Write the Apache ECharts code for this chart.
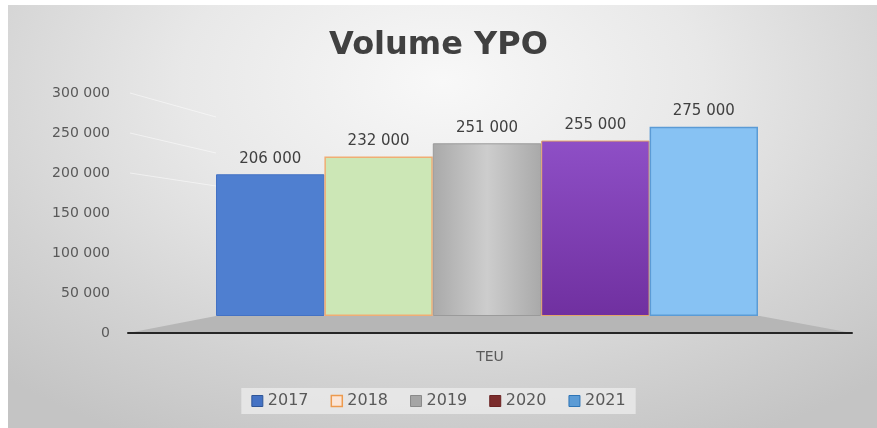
<!DOCTYPE html>
<html>
<head>
<meta charset="utf-8">
<script src="https://cdn.jsdelivr.net/npm/echarts@6/dist/echarts.min.js"></script>
<style>
  html, body { margin: 0; padding: 0; background: #ffffff; }
  #wrap { position: absolute; left: 8px; top: 5px; width: 869px; height: 423px;
    background: radial-gradient(ellipse 75% 95% at 50% 18%, #f8f8f8 0%, #e8e8e8 40%, #d2d2d2 75%, #c4c4c4 100%); }
  #chart { position: absolute; left: -8px; top: -5px; width: 877px; height: 428px; }
</style>
</head>
<body>
<div id="wrap"><div id="chart"></div></div>
<script>
const categories = ['TEU'];
const years = ['2017', '2018', '2019', '2020', '2021'];
const values2017 = [206000];
const values2018 = [232000];
const values2019 = [251000];
const values2020 = [255000];
const values2021 = [275000];
const yTicks = [0, 50000, 100000, 150000, 200000, 250000, 300000];

const seriesValues = [values2017, values2018, values2019, values2020, values2021];

const fmt = v => String(v).replace(/\B(?=(\d{3})+(?!\d))/g, ' ');
const FONT = 'DejaVu Sans';

const barStyles = [
  { color: '#4f7fd0', borderColor: '#4472c4', borderWidth: 1 },
  { color: '#cce7b6', borderColor: '#f0ad74', borderWidth: 1.5 },
  { color: { type: 'linear', x: 0, y: 0, x2: 1, y2: 0, colorStops: [
      { offset: 0, color: '#a9a9a9' }, { offset: 0.5, color: '#cdcdcd' }, { offset: 1, color: '#a9a9a9' }] },
    borderColor: '#9a9a9a', borderWidth: 1 },
  { color: { type: 'linear', x: 0, y: 0, x2: 0, y2: 1, colorStops: [
      { offset: 0, color: '#8e4fc6' }, { offset: 1, color: '#7030a0' }] },
    borderColor: '#e3a56a', borderWidth: 1 },
  { color: '#87c2f3', borderColor: '#5b9bd5', borderWidth: 1.5 }
];
const legendStyles = [
  { color: '#4472c4', borderColor: '#2f5597', borderWidth: 1 },
  { color: '#fbe5d6', borderColor: '#ed9a4e', borderWidth: 1.5 },
  { color: '#a5a5a5', borderColor: '#8a8a8a', borderWidth: 1 },
  { color: '#7b2c2c', borderColor: '#6a2222', borderWidth: 1 },
  { color: '#5b9bd5', borderColor: '#2e75b6', borderWidth: 1 }
];

const chart = echarts.init(document.getElementById('chart'));
chart.setOption({
  backgroundColor: 'transparent',
  animation: false,
  title: {
    text: 'Volume YPO', left: 'center', top: 25,
    textStyle: { fontFamily: FONT, fontSize: 32, fontWeight: 'bold', color: '#404040' }
  },
  legend: {
    data: years.map((y, i) => ({ name: y, icon: 'rect', itemStyle: legendStyles[i] })),
    bottom: 14, left: 'center',
    itemWidth: 11, itemHeight: 11, itemGap: 22,
    backgroundColor: 'rgba(232,232,232,0.9)', padding: [5, 10],
    textStyle: { fontFamily: FONT, fontSize: 16, color: '#595959' }
  },
  graphic: [
    { type: 'polygon', z: 0, silent: true,
      shape: { points: [[128, 333], [216, 316], [760, 316], [852, 333]] },
      style: { fill: '#b6b6b6' } },
    { type: 'line', z: 0, silent: true, shape: { x1: 130, y1: 93, x2: 216, y2: 117 }, style: { stroke: 'rgba(255,255,255,0.5)', lineWidth: 1 } },
    { type: 'line', z: 0, silent: true, shape: { x1: 130, y1: 133, x2: 216, y2: 153 }, style: { stroke: 'rgba(255,255,255,0.5)', lineWidth: 1 } },
    { type: 'line', z: 0, silent: true, shape: { x1: 130, y1: 173, x2: 216, y2: 186 }, style: { stroke: 'rgba(255,255,255,0.5)', lineWidth: 1 } }
  ],
  grid: [
    { left: 128, right: 25, top: 93, bottom: 95 },
    { left: 216, right: 119, top: 109.6, bottom: 112 }
  ],
  xAxis: [
    { type: 'category', gridIndex: 0, data: categories,
      axisLine: { lineStyle: { color: '#262626', width: 2 } },
      axisTick: { show: false },
      axisLabel: { margin: 17, fontFamily: FONT, fontSize: 14, color: '#595959' } },
    { type: 'category', gridIndex: 1, data: categories, show: false }
  ],
  yAxis: [
    { type: 'value', gridIndex: 0, min: yTicks[0], max: yTicks[yTicks.length - 1], interval: 50000,
      axisLine: { show: false }, axisTick: { show: false }, splitLine: { show: false },
      axisLabel: { margin: 18, fontFamily: FONT, fontSize: 14, color: '#595959', formatter: fmt } },
    { type: 'value', gridIndex: 1, min: 0, max: 300000, show: false, splitLine: { show: false } }
  ],
  series: years.map((y, i) => ({
    name: y, type: 'bar', xAxisIndex: 1, yAxisIndex: 1,
    data: seriesValues[i],
    barGap: '0%', barCategoryGap: '0%',
    itemStyle: barStyles[i],
    label: { show: true, position: 'top', distance: 8, formatter: p => fmt(p.value),
      fontFamily: FONT, fontSize: 15, color: '#404040' }
  }))
});
</script>
</body>
</html>
